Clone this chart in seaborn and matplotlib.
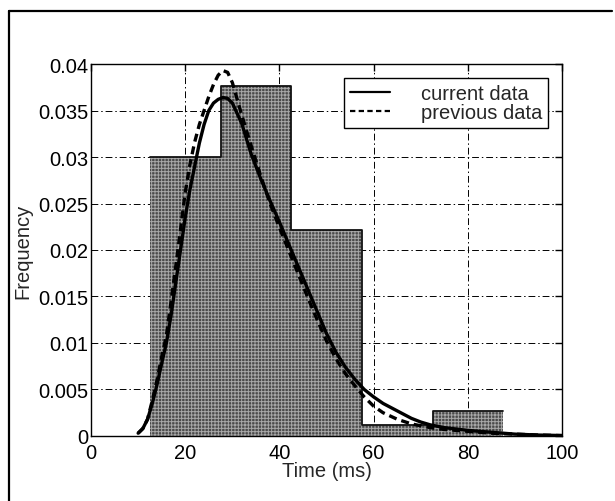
import numpy as np
import pandas as pd
import matplotlib
matplotlib.use("Agg")
import matplotlib.pyplot as plt
from matplotlib.lines import Line2D
from matplotlib.ticker import FuncFormatter, MultipleLocator
import seaborn as sns

# histogram bins (ms) and heights
bin_edges = [12.5, 27.5, 42.5, 57.5, 72.5, 87.5]
bin_heights = [0.0300, 0.0376, 0.0222, 0.0012, 0.0027]

# fitted density curves
cur_x = [10, 11, 12, 13, 14, 15, 16, 17, 18, 19, 20, 21, 22, 23, 24, 25, 26, 27, 28,
         29, 30, 32, 34, 36, 38, 40, 42, 44, 46, 48, 50, 52, 54, 56, 58, 60, 62, 65,
         68, 70, 72, 75, 80, 85, 90, 95, 100]
cur_y = [0.0003, 0.0008, 0.0018, 0.0035, 0.0055, 0.0078, 0.0100, 0.0130, 0.0165, 0.0200,
         0.0235, 0.0265, 0.0290, 0.0315, 0.0335, 0.0350, 0.0358, 0.0362, 0.0364, 0.0363,
         0.0358, 0.0336, 0.0303, 0.0277, 0.0253, 0.0230, 0.0206, 0.0182, 0.0158, 0.0134,
         0.0110, 0.0090, 0.0074, 0.0061, 0.0050, 0.0042, 0.0035, 0.0027, 0.0019, 0.0015,
         0.0012, 0.0009, 0.0006, 0.0004, 0.0002, 0.0001, 0.00005]

prev_x = [10, 11, 12, 13, 14, 15, 16, 17, 18, 19, 20, 21, 22, 23, 24, 25, 26, 27, 28,
          29, 30, 32, 34, 36, 38, 40, 42, 44, 46, 48, 50, 52, 54, 56, 58, 60, 62, 65,
          68, 70, 72, 75, 80, 85, 90, 95, 100]
prev_y = [0.0003, 0.0008, 0.0018, 0.0038, 0.0060, 0.0085, 0.0108, 0.0145, 0.0183, 0.0222,
          0.0262, 0.0292, 0.0316, 0.0335, 0.0350, 0.0365, 0.0378, 0.0388, 0.0393, 0.0391,
          0.0380, 0.0345, 0.0312, 0.0280, 0.0250, 0.0224, 0.0199, 0.0174, 0.0149, 0.0125,
          0.0102, 0.0083, 0.0067, 0.0054, 0.0042, 0.0032, 0.0025, 0.0018, 0.0013, 0.0011,
          0.0009, 0.0007, 0.0005, 0.0003, 0.0002, 0.0001, 0.00004]

sns.set_theme(style="white")
plt.rcParams['font.family'] = ['Liberation Sans', 'DejaVu Sans']
plt.rcParams['hatch.linewidth'] = 0.7

fig = plt.figure(figsize=(6.15, 5.02), dpi=100)
ax = fig.add_axes([0.148, 0.1295, 0.766, 0.741])

centers = [(a + b) / 2 for a, b in zip(bin_edges[:-1], bin_edges[1:])]
df_hist = pd.DataFrame({'t': centers, 'h': bin_heights})

# textured gray bars
sns.histplot(data=df_hist, x='t', weights='h', bins=bin_edges, stat='count',
             color='#4a4a4a', alpha=1, linewidth=0, ax=ax, zorder=2)
for p in ax.patches:
    p.set_hatch('+++++')
    p.set_edgecolor('#a8a8a8')
    p.set_linewidth(0)
# dark outlines, drawn as a step outline like the original
sns.histplot(data=df_hist, x='t', weights='h', bins=bin_edges, stat='count',
             element='step', fill=False, color='#111111', linewidth=1.3,
             ax=ax, zorder=3)

sns.lineplot(x=cur_x, y=cur_y, color='black', lw=2.4, ax=ax, zorder=4,
             label='current data')
sns.lineplot(x=prev_x, y=prev_y, color='black', lw=2.4, ax=ax, zorder=4,
             label='previous data')
ax.lines[-1].set_dashes((2.4, 1.5))

ax.set_xlim(0, 100)
ax.set_ylim(0, 0.04)
ax.xaxis.set_major_locator(MultipleLocator(20))
ax.yaxis.set_major_locator(MultipleLocator(0.005))
ax.yaxis.set_major_formatter(FuncFormatter(lambda v, p: f"{v:g}"))

ax.grid(True, color='black', linewidth=0.7, linestyle=(0, (7, 3, 1.5, 3)), zorder=1)
ax.set_axisbelow(True)
for s in ax.spines.values():
    s.set_visible(True)
    s.set_color('black')
    s.set_linewidth(1.0)
ax.tick_params(direction='in', length=5, width=1, top=True, right=True,
               labelsize=14.5, colors='black')
ax.tick_params(axis='x', pad=5)
ax.tick_params(axis='y', pad=2)

ax.set_xlabel('Time (ms)', fontsize=14.5, labelpad=-1)
ax.set_ylabel('Frequency', fontsize=14.5)
ax.yaxis.set_label_coords(-0.125, 0.5)

leg = ax.legend(loc='upper right', fontsize=14.5, frameon=True, fancybox=False,
                edgecolor='black', framealpha=1, borderaxespad=0.7,
                handlelength=2.0, handletextpad=1.5, borderpad=0.3, labelspacing=0.0)
leg.get_frame().set_linewidth(1.0)
for h in leg.get_lines():
    h.set_linewidth(1.6)

# outer scanned frame (top and left)
fig.add_artist(Line2D([9 / 615, 612 / 615], [1 - 12 / 502, 1 - 12 / 502],
                      color='black', lw=1.6))
fig.add_artist(Line2D([9 / 615, 9 / 615], [0, 1 - 12 / 502], color='black', lw=1.6))

fig.savefig('out.png', dpi=100)
